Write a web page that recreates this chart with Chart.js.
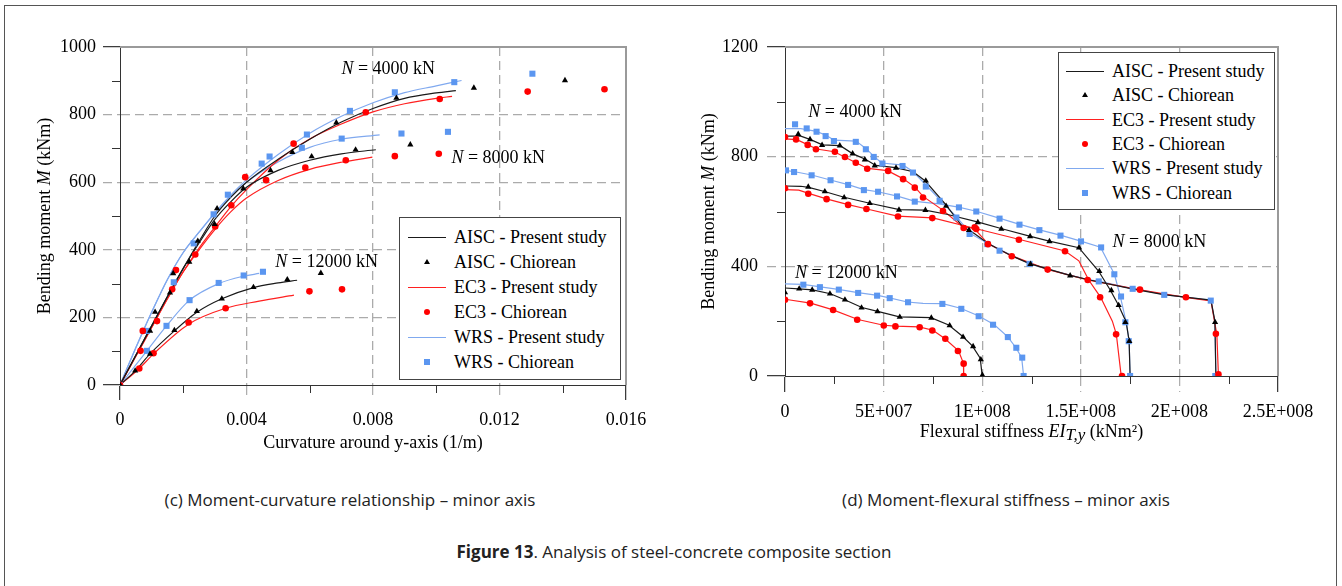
<!DOCTYPE html>
<html>
<head>
<meta charset="utf-8">
<script src="https://cdn.jsdelivr.net/npm/chart.js@4.4.1/dist/chart.umd.min.js"></script>
<style>
  body { margin: 0; background: #fff; width: 1342px; height: 586px; overflow: hidden; position: relative; }
  .frame { position: absolute; left: 4px; top: 5px; width: 1333px; height: 640px; border: 1.5px solid #555; box-sizing: border-box; }
  canvas { position: absolute; top: 0; }
  #cvC { left: 0; }
  #cvD { left: 680px; }
  .legend { position: absolute; background: #fff; border: 1px solid #444; box-sizing: border-box;
            font: 18px "Liberation Serif", serif; color: #000; }
  .legend .txt { position: absolute; white-space: nowrap; line-height: 20px; height: 20px; }
  .legend .smp { position: absolute; }
  .cap { position: absolute; font: 17px "Open Sans", sans-serif; line-height: 23px; color: #222; white-space: nowrap; transform: translateX(-50%); }
</style>
</head>
<body>
<div class="frame"></div>
<canvas id="cvC" width="680" height="470"></canvas>
<canvas id="cvD" width="662" height="470"></canvas>
<div class="legend" id="legC" style="left:399px;top:217px;width:222px;height:163px"></div>
<div class="legend" id="legD" style="left:1058px;top:52px;width:217px;height:158px"></div>
<div class="cap" style="left:350px;top:488px">(c) Moment-curvature relationship – minor axis</div>
<div class="cap" style="left:1006px;top:488px">(d) Moment-flexural stiffness – minor axis</div>
<div class="cap" style="left:674px;top:540px"><b>Figure 13</b>. Analysis of steel-concrete composite section</div>

<script>
var SERIF = '"Liberation Serif", "Times New Roman", serif';
var GRID = "#ababab";

var loads = [4000, 8000, 12000];
var methods = ["AISC", "EC3", "WRS"];

// (c) moment-curvature: [curvature x 1e-3 (1/m), moment (kNm)]
var mcAisc4000 = [[0,0],[0.5,88],[1,175],[1.5,262],[2,345],[2.5,425],[3,500],[3.5,555],[4,600],[5,668],[6,727],[7,778],[8,818],[9,848],[10,864],[10.62,871]];
var mcAisc8000 = [[0,0],[0.5,88],[1,175],[1.5,262],[2,345],[2.5,420],[3,490],[3.5,542],[4,585],[5,635],[6,665],[7,684],[8.09,696]];
var mcAisc12000 = [[0,0],[0.48,42],[0.95,92],[1.72,160],[2.43,215],[3.22,255],[4.22,288],[5.0,302],[5.6,310]];
var mcEc3_4000 = [[0,0],[0.5,85],[1,170],[1.5,255],[2,335],[2.5,405],[3,467],[3.5,527],[4,578],[5,665],[6,728],[7,772],[8,808],[9,832],[10,848],[10.5,854]];
var mcEc3_8000 = [[0,0],[0.5,85],[1,170],[1.5,255],[2,335],[2.5,400],[3,460],[3.5,512],[4,553],[5,605],[6,638],[7,659],[7.98,674]];
var mcEc3_12000 = [[0,0],[0.61,49],[1.06,92],[2.17,180],[3.34,227],[4.4,248],[5.5,266]];
var mcWrs4000 = [[0,0],[0.5,110],[1,215],[1.5,312],[2,392],[2.5,452],[3,510],[3.5,562],[4,607],[5,682],[6,745],[7,795],[8,835],[9,865],[10,885],[10.8,901]];
var mcWrs8000 = [[0,0],[0.5,110],[1,215],[1.5,312],[2,392],[2.5,452],[3,508],[3.5,557],[4,600],[5,660],[6,703],[7,727],[8.21,740]];
var mcWrs12000 = [[0,0],[0.85,101],[1.47,175],[2.2,251],[3.12,300],[3.91,322],[4.4,330]];

var mcAiscChiorean = [[0,0],[0.48,42],[0.95,92],[1.72,162],[2.43,218],[3.22,255],[4.22,289],[5.29,312],[6.35,331],
  [0.95,160],[1.11,216],[1.58,273],[1.68,330],[2.19,364],[2.46,426],[2.99,476],[3.07,522],[3.9,581],[4.76,635],
  [5.45,689],[6.06,676],[6.84,776],[7.45,696],[8.74,849],[9.18,711],[11.19,879],[14.07,901]];
var mcEc3Chiorean = [[0,0],[0.61,49],[1.06,94],[2.17,185],[3.34,227],[5.99,277],[7.02,283],
  [0.65,101],[0.72,160],[1.17,189],[1.65,283],[1.77,340],[2.38,386],[3.01,469],[3.52,532],[3.96,615],[4.62,606],
  [5.49,714],[5.86,643],[7.14,665],[7.77,807],[8.69,677],[10.08,684],[10.11,846],[12.89,868],[15.32,875]];
var mcWrsChiorean = [[0,0],[0.85,101],[1.47,175],[2.2,251],[3.12,302],[3.91,324],[4.52,335],
  [0.85,160],[1.7,304],[2.33,419],[2.96,505],[3.41,563],[4.48,655],[4.73,676],[5.75,702],[5.91,741],[7.01,729],
  [7.27,811],[8.69,866],[8.9,744],[10.37,749],[10.57,896],[13.04,921]];

// (d) moment-flexural stiffness: [EI x 1e7 (kNm2), moment (kNm)]
var msAisc4000 = [[0,875],[0.8,875],[1.3,862],[1.9,843],[2.8,840],[3.4,812],[4.1,790],[4.6,768],[5.6,760],[6.5,745],[7.1,712],[8.1,630],[9.0,545],[9.6,520],[10.3,483],[11.5,438],[12.4,410],[14.4,368],[15.4,351],[17.6,318],[19.2,297],[20.3,288],[21.6,277],[21.8,200],[21.85,0]];
var msAisc8000 = [[0,693],[0.8,692],[1.2,688],[2.0,673],[3.0,652],[4.3,630],[5.8,607],[7.1,605],[8.2,590],[9.8,561],[11.0,537],[12.4,510],[13.4,492],[14.9,468],[15.9,383],[16.5,313],[16.9,260],[17.3,197],[17.45,128],[17.5,0]];
var msAisc12000 = [[0,321],[0.7,318],[1.4,314],[2.3,300],[3.0,279],[3.9,250],[4.7,236],[5.8,216],[7.4,213],[8.3,186],[9.0,145],[9.5,110],[9.9,65],[10.0,0]];
var msEc3_4000 = [[0,865],[0.6,862],[1.2,842],[1.6,828],[2.5,818],[3.0,800],[3.6,778],[4.2,757],[5.2,749],[6.0,719],[6.6,688],[7.0,655],[8.0,605],[9.0,545],[9.6,538],[10.3,482],[11.5,438],[13.3,389],[15.4,350],[18.0,314],[20.3,287],[21.6,274],[21.9,150],[21.98,0]];
var msEc3_8000 = [[0,680],[0.7,678],[1.2,666],[2.1,646],[3.2,625],[4.1,610],[5.7,583],[7.5,577],[9.7,537],[11.9,498],[14.2,456],[14.9,420],[15.4,350],[16.0,288],[16.6,200],[16.8,153],[17.0,30],[17.05,0]];
var msEc3_12000 = [[0,280],[1.3,266],[2.4,242],[3.7,206],[5.0,185],[5.6,182],[6.8,179],[7.5,167],[8.1,137],[8.8,92],[9.05,46],[9.06,0]];
var msWrs4000 = [[0,902],[0.8,902],[1.6,892],[2.1,877],[2.5,860],[3.6,857],[4.1,830],[4.5,802],[4.9,777],[6.0,769],[6.5,745],[7.2,693],[7.9,640],[8.7,580],[9.4,520],[10.3,483],[10.9,460],[11.5,440],[12.4,410],[13.3,390],[14.5,367],[15.4,351],[15.9,346],[17.6,319],[18.0,315],[19.2,297],[20.3,288],[21.6,276],[21.8,196],[21.85,0]];
var msWrs8000 = [[0,750],[0.5,745],[1.35,733],[2.3,715],[3.2,698],[4.0,680],[4.7,672],[5.7,656],[6.6,637],[7.8,628],[8.8,616],[9.7,601],[10.9,575],[11.9,553],[12.9,533],[14.0,513],[15.0,492],[16.0,470],[16.7,372],[17.0,291],[17.3,197],[17.45,128],[17.5,0]];
var msWrs12000 = [[0,336],[0.9,334],[1.8,325],[2.7,316],[3.7,304],[4.7,294],[5.3,285],[6.2,270],[7.0,265],[8.0,264],[8.9,247],[9.8,220],[10.6,188],[11.3,143],[11.7,104],[12.0,68],[12.1,0]];

var msAiscChiorean = [[0.67,882],[1.27,863],[1.88,842],[2.78,840],[3.43,811],[4.05,789],[4.55,767],[5.63,759],[7.14,712],[8.17,620],[9.33,532],[12.45,408],[14.46,366],[21.81,196],
  [1.18,690],[2.02,673],[3.0,651],[4.3,630],[5.78,606],[7.12,605],[9.78,560],[10.97,536],[12.43,509],[13.41,491],[14.91,468],[15.94,382],[16.55,312],[16.92,258],[17.26,196],[17.46,127],
  [0,305],[0.72,318],[1.38,314],[2.28,300],[3.04,278],[3.88,249],[4.69,235],[5.82,215],[7.42,212],[8.35,184],[9.03,142],[9.54,108],[9.93,60],[10.01,3]];
var msEc3Chiorean = [[0,872],[0.56,863],[1.15,843],[1.57,827],[2.53,818],[3.04,799],[3.59,778],[4.17,756],[5.23,748],[5.99,718],[6.58,687],[7.0,651],[8.01,602],[9.06,540],[9.62,542],[10.29,481],[11.5,437],[13.32,388],[15.35,350],[18.0,315],[20.33,287],[21.85,154],[21.98,6],
  [0,685],[1.18,665],[2.11,645],[3.2,624],[4.13,609],[5.73,582],[7.47,576],[9.7,536],[11.86,497],[14.2,455],[15.98,287],[16.79,152],[17.09,0],
  [0,278],[1.27,265],[2.44,241],[3.66,205],[5.01,184],[5.6,181],[6.83,178],[7.47,166],[8.13,136],[8.77,91],[9.06,45],[9.06,0]];
var msWrsChiorean = [[0.51,918],[1.1,903],[1.6,891],[2.06,875],[2.48,857],[3.59,854],[4.1,827],[4.5,799],[4.94,775],[5.96,766],[6.49,742],[7.14,691],[7.84,639],[8.69,578],[9.36,518],[10.26,481],[10.88,457],[12.4,409],[15.91,345],[17.63,318],[19.23,296],[21.59,275],[21.82,0],
  [0.05,750],[0.46,744],[1.35,732],[2.31,714],[3.2,697],[4.0,678],[4.72,672],[5.68,655],[6.58,636],[8.82,615],[9.7,600],[10.88,574],[11.89,552],[12.9,532],[13.97,512],[15.01,491],[16.03,469],[16.7,371],[17.04,290],[17.26,196],[17.43,127],[17.5,0],
  [0.93,333],[1.77,324],[2.73,315],[3.71,303],[4.67,293],[5.31,284],[6.24,269],[7.98,263],[8.94,245],[9.82,218],[10.55,187],[11.3,142],[11.73,103],[12.03,67],[12.1,0]];

// label spots for the N = ... kN notes
var notesC = [[7.0, 933, 4000], [10.48, 670, 8000], [4.91, 364, 12000]];
var notesD = [[1.18, 962, 4000], [16.61, 487, 8000], [0.51, 375, 12000]];

var lineColor = { AISC: "#1a1a1a", EC3: "#ff2020", WRS: "#80a9ef" };
var dotColor = { AISC: "#000000", EC3: "#ff0000", WRS: "#5b96f0" };
var dotStyle = { AISC: "triangle", EC3: "circle", WRS: "rect" };
var dotRadius = { AISC: 3.6, EC3: 3.3, WRS: 4.3 };

function toPts(arr, xs) {
  return arr.map(function (p) { return { x: p[0] * xs, y: p[1] }; });
}

function buildDatasets(lines, dots, xs, tension) {
  var sets = [];
  methods.forEach(function (m) {
    sets.push({
      label: m + " - Chiorean", data: toPts(dots[m], xs), order: 0,
      pointStyle: dotStyle[m], pointRadius: dotRadius[m], pointBackgroundColor: dotColor[m],
      pointBorderColor: dotColor[m], pointBorderWidth: 0, showLine: false
    });
    loads.forEach(function (n) {
      var ds = {
        label: m + " - Present study", data: toPts(lines[m][n], xs), order: 1,
        showLine: true, pointRadius: 0, borderColor: lineColor[m], borderWidth: 1.2, fill: false
      };
      if (tension) ds.cubicInterpolationMode = "monotone"; else ds.tension = 0;
      sets.push(ds);
    });
  });
  return sets;
}

function axis(o) {
  var isMajor = function (v) { return Math.abs(v / o.major - Math.round(v / o.major)) < 1e-6; };
  var isEnd = function (v) { return Math.abs(v - o.min) < o.step * 1e-3 || Math.abs(v - o.max) < o.step * 1e-3; };
  return {
    type: "linear", min: o.min, max: o.max,
    afterFit: function (s) { if (o.w) s.width = o.w; if (o.h) s.height = o.h; },
    ticks: {
      stepSize: o.step, autoSkip: false, maxRotation: 0, padding: o.pad, color: "#000",
      font: { family: SERIF, size: 18 },
      callback: function (v) { return isMajor(v) ? o.fmt(v) : ""; }
    },
    grid: {
      lineWidth: 1.3, tickLength: o.tl, tickWidth: 1.2,
      color: function (c) { var v = c.tick.value; return (!isEnd(v) && isMajor(v)) ? GRID : "rgba(0,0,0,0)"; },
      tickColor: function (c) { var v = c.tick.value; return isEnd(v) ? "#333" : (isMajor(v) ? GRID : "rgba(0,0,0,0)"); },
      tickBorderDash: function (c) { return isEnd(c.tick.value) ? [] : [9, 5]; }
    },
    border: { color: "#333", width: 1, dash: [9, 5] }
  };
}

// short solid ticks between the labelled ones
var minorTicks = {
  id: "minorTicks",
  afterDraw: function (chart, args, opts) {
    var ctx = chart.ctx;
    ctx.save();
    ctx.strokeStyle = "#333";
    ctx.lineWidth = 1;
    ["x", "y"].forEach(function (id) {
      var sc = chart.scales[id], major = opts[id];
      sc.ticks.forEach(function (t, i) {
        if (Math.abs(t.value / major - Math.round(t.value / major)) < 1e-6) return;
        var p = Math.round(sc.getPixelForTick(i)) + 0.5;
        ctx.beginPath();
        if (id === "x") { ctx.moveTo(p, sc.top); ctx.lineTo(p, sc.top + 8); }
        else { ctx.moveTo(sc.right - 8, p); ctx.lineTo(sc.right, p); }
        ctx.stroke();
      });
    });
    ctx.restore();
  }
};

// grey box edge on top and right of the plot
var frame = {
  id: "frame",
  afterDraw: function (chart) {
    var ctx = chart.ctx, a = chart.chartArea;
    ctx.save();
    ctx.strokeStyle = "#9a9a9a";
    ctx.lineWidth = 2;
    ctx.beginPath();
    ctx.moveTo(a.left, a.top);
    ctx.lineTo(a.right, a.top);
    ctx.lineTo(a.right, a.bottom);
    ctx.stroke();
    ctx.restore();
  }
};

function drawParts(ctx, parts, x, y) {
  parts.forEach(function (p) {
    ctx.font = (p.i ? "italic " : "") + (p.s || 18) + "px " + SERIF;
    ctx.fillText(p.t, x, y + (p.dy || 0));
    x += ctx.measureText(p.t).width;
  });
}
function partsWidth(ctx, parts) {
  var w = 0;
  parts.forEach(function (p) {
    ctx.font = (p.i ? "italic " : "") + (p.s || 18) + "px " + SERIF;
    w += ctx.measureText(p.t).width;
  });
  return w;
}

// axis titles (with italic symbols) and the N = ... kN notes
var texts = {
  id: "texts",
  afterDraw: function (chart, args, opts) {
    var ctx = chart.ctx, a = chart.chartArea;
    ctx.save();
    ctx.fillStyle = "#000";
    ctx.textBaseline = "middle";
    ctx.textAlign = "left";
    var w = partsWidth(ctx, opts.xTitle);
    drawParts(ctx, opts.xTitle, (a.left + a.right) / 2 - w / 2, opts.xTitleY);
    ctx.save();
    ctx.translate(opts.yTitleX, (a.top + a.bottom) / 2);
    ctx.rotate(-Math.PI / 2);
    w = partsWidth(ctx, opts.yTitle);
    drawParts(ctx, opts.yTitle, -w / 2, 0);
    ctx.restore();
    opts.notes.forEach(function (n) {
      var x = chart.scales.x.getPixelForValue(n[0] * opts.xs);
      var y = chart.scales.y.getPixelForValue(n[1]);
      drawParts(ctx, [{ t: "N", i: true }, { t: " = " + n[2] + " kN" }], x, y);
    });
    ctx.restore();
  }
};

var yTitle = [{ t: "Bending moment " }, { t: "M", i: true }, { t: " (kNm)" }];

function sci(v) {
  if (Math.abs(v) < 1) return "0";
  var e = Math.floor(Math.log10(v) + 1e-9);
  var m = +(v / Math.pow(10, e)).toFixed(2);
  return m + "E+" + String(e).padStart(3, "0");
}

// chart (c)
var chartC = new Chart(document.getElementById("cvC"), {
  type: "scatter",
  data: {
    datasets: buildDatasets(
      { AISC: { 4000: mcAisc4000, 8000: mcAisc8000, 12000: mcAisc12000 },
        EC3: { 4000: mcEc3_4000, 8000: mcEc3_8000, 12000: mcEc3_12000 },
        WRS: { 4000: mcWrs4000, 8000: mcWrs8000, 12000: mcWrs12000 } },
      { AISC: mcAiscChiorean, EC3: mcEc3Chiorean, WRS: mcWrsChiorean }, 1e-3, true)
  },
  options: {
    responsive: false, animation: false, devicePixelRatio: 1,
    layout: { padding: { left: 0, right: 54, top: 47, bottom: 0 } },
    scales: {
      x: axis({ min: 0, max: 0.016, step: 0.002, major: 0.004, tl: 15, pad: 9, h: 85,
                fmt: function (v) { return v < 1e-9 ? "0" : v.toFixed(3); } }),
      y: axis({ min: 0, max: 1000, step: 100, major: 200, tl: 17, pad: 7, w: 120,
                fmt: function (v) { return String(Math.round(v)); } })
    },
    plugins: {
      legend: { display: false }, tooltip: { enabled: false },
      minorTicks: { x: 0.004, y: 200 },
      texts: { xs: 1e-3, notes: notesC, yTitle: yTitle, yTitleX: 45, xTitleY: 443,
               xTitle: [{ t: "Curvature around y-axis (1/m)" }] }
    }
  },
  plugins: [minorTicks, frame, texts]
});

// chart (d)
var chartD = new Chart(document.getElementById("cvD"), {
  type: "scatter",
  data: {
    datasets: buildDatasets(
      { AISC: { 4000: msAisc4000, 8000: msAisc8000, 12000: msAisc12000 },
        EC3: { 4000: msEc3_4000, 8000: msEc3_8000, 12000: msEc3_12000 },
        WRS: { 4000: msWrs4000, 8000: msWrs8000, 12000: msWrs12000 } },
      { AISC: msAiscChiorean, EC3: msEc3Chiorean, WRS: msWrsChiorean }, 1e7, false)
  },
  options: {
    responsive: false, animation: false, devicePixelRatio: 1,
    layout: { padding: { left: 0, right: 64, top: 47, bottom: 0 } },
    scales: {
      x: axis({ min: 0, max: 2.5e8, step: 2.5e7, major: 5e7, tl: 16, pad: 9, h: 94, fmt: sci }),
      y: axis({ min: 0, max: 1200, step: 200, major: 400, tl: 18, pad: 9, w: 105,
                fmt: function (v) { return String(Math.round(v)); } })
    },
    plugins: {
      legend: { display: false }, tooltip: { enabled: false },
      minorTicks: { x: 5e7, y: 400 },
      texts: { xs: 1e7, notes: notesD, yTitle: yTitle, yTitleX: 29, xTitleY: 432,
               xTitle: [{ t: "Flexural stiffness " }, { t: "EI", i: true }, { t: "T,y", i: true, s: 17, dy: 4 }, { t: " (kNm²)" }] }
    }
  },
  plugins: [minorTicks, frame, texts]
});

// legends built from the chart datasets
function buildLegend(el, chart, x0, t0, rowH) {
  var seen = {};
  var rows = [];
  methods.forEach(function (m) {
    chart.data.datasets.forEach(function (ds) {
      if (ds.label.indexOf(m + " ") !== 0 || seen[ds.label]) return;
      seen[ds.label] = true;
      rows.push({ label: ds.label, m: m, line: !!ds.showLine });
    });
  });
  rows.sort(function (a, b) {
    return methods.indexOf(a.m) - methods.indexOf(b.m) || (b.line - a.line);
  });
  rows.forEach(function (r, i) {
    var cy = t0 + i * rowH;
    var s = document.createElement("div");
    s.className = "smp";
    if (r.line) {
      s.style.cssText = "left:" + x0 + "px;top:" + (cy - 0.5) + "px;width:38px;height:0;border-top:1px solid " + lineColor[r.m];
    } else if (r.m === "AISC") {
      s.style.cssText = "left:" + (x0 + 16) + "px;top:" + (cy - 3) + "px;width:0;height:0;border-left:3px solid transparent;border-right:3px solid transparent;border-bottom:5px solid #000";
    } else if (r.m === "EC3") {
      s.style.cssText = "left:" + (x0 + 16) + "px;top:" + (cy - 3) + "px;width:6px;height:6px;border-radius:50%;background:" + dotColor.EC3;
    } else {
      s.style.cssText = "left:" + (x0 + 16) + "px;top:" + (cy - 3) + "px;width:6px;height:6px;background:" + dotColor.WRS;
    }
    el.appendChild(s);
    var t = document.createElement("div");
    t.className = "txt";
    t.style.left = (x0 + 46) + "px";
    t.style.top = (cy - 10) + "px";
    t.textContent = r.label;
    el.appendChild(t);
  });
}
buildLegend(document.getElementById("legC"), chartC, 8, 19, 25);
buildLegend(document.getElementById("legD"), chartD, 7, 18, 24.3);
</script>
</body>
</html>
